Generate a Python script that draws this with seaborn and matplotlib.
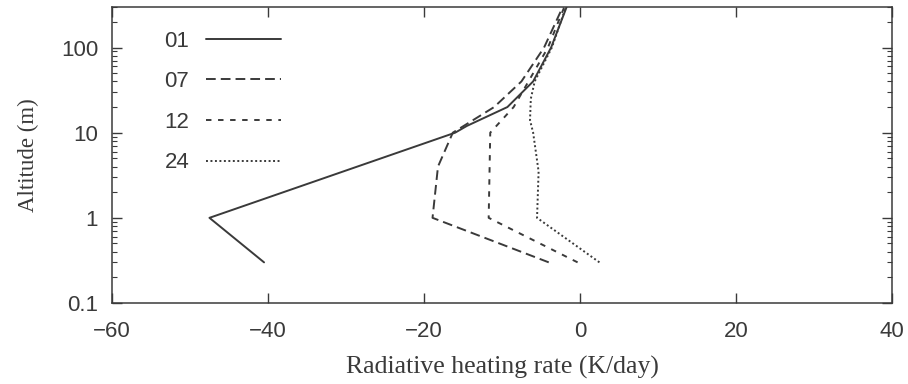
# Radiative heating rate profiles at four hours

import pandas as pd
import matplotlib.pyplot as plt
import seaborn as sns

# altitude levels (m) and heating rates (K/day) per hour
alt_01 = [0.3, 1, 10, 12, 20, 40, 100, 300]
rate_01 = [-40.5, -47.5, -16, -14.5, -9.3, -6.0, -3.7, -1.7]

alt_07 = [0.3, 1, 4, 10, 20, 40, 100, 300]
rate_07 = [-4.0, -18.9, -18.2, -16.3, -11.0, -7.5, -4.6, -2.2]

alt_12 = [0.3, 1, 10, 20, 40, 100, 300]
rate_12 = [-0.3, -11.7, -11.5, -8.5, -6.6, -4.1, -2.0]

alt_24 = [0.3, 1, 3.5, 10, 14, 25, 40, 100, 300]
rate_24 = [2.5, -5.5, -5.3, -6.0, -6.4, -6.3, -5.8, -3.6, -1.8]

hours = ["01", "07", "12", "24"]

frames = []
for h, a, r in zip(hours, [alt_01, alt_07, alt_12, alt_24],
                   [rate_01, rate_07, rate_12, rate_24]):
    frames.append(pd.DataFrame({"hour": h, "alt": a, "rate": r}))
df = pd.concat(frames, ignore_index=True)

sns.set_style("ticks")
plt.rcParams["font.family"] = ["Liberation Sans", "DejaVu Sans"]

ink = "#3a3a3a"
fig = plt.figure(figsize=(9.08, 3.84), dpi=100)
ax = fig.add_axes([0.1233, 0.211, 0.859, 0.771])

sns.lineplot(data=df, x="rate", y="alt", style="hour", sort=False,
             estimator=None, color=ink, linewidth=1.4, ax=ax,
             dashes={"01": "", "07": (5, 2.6), "12": (2.8, 3.4), "24": (1, 1.3)})

ax.set_yscale("log")
ax.set_xlim(-60, 40)
ax.set_ylim(0.1, 300)
ax.set_xticks([-60, -40, -20, 0, 20, 40])
ax.set_xticklabels(["\u221260", "\u221240", "\u221220", "0", "20", "40"])
ax.set_yticks([0.1, 1, 10, 100])
ax.set_yticklabels(["0.1", "1", "10", "100"])

ax.tick_params(which="both", direction="in", top=True, right=True,
               colors=ink, labelsize=16)
ax.tick_params(which="major", length=7.5, width=1)
ax.tick_params(which="minor", length=3.8, width=0.8)
ax.tick_params(axis="x", pad=13)
ax.tick_params(axis="y", pad=10)
for s in ax.spines.values():
    s.set_color(ink)
    s.set_linewidth(1.1)

ax.set_xlabel("Radiative heating rate (K/day)", family="Liberation Serif",
              fontsize=18.5, color=ink, labelpad=10)
ax.set_ylabel("Altitude (m)", family="Liberation Serif", fontsize=16.5,
              color=ink, labelpad=16)

handles, labels = ax.get_legend_handles_labels()
ax.legend(handles, labels, markerfirst=False, frameon=False, fontsize=16,
          loc="upper left", bbox_to_anchor=(0.181, 0.92),
          bbox_transform=fig.transFigure, borderpad=0, borderaxespad=0,
          handlelength=3.4, handletextpad=0.75, labelspacing=0.88,
          labelcolor=ink)

fig.savefig("out.png", dpi=100)
